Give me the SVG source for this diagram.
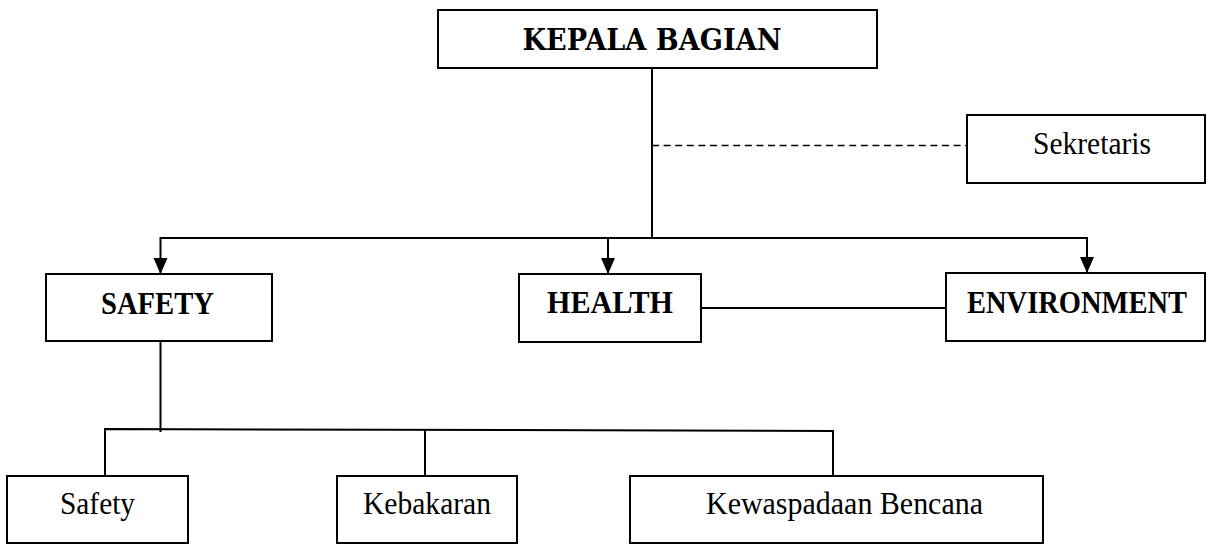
<svg xmlns="http://www.w3.org/2000/svg" width="1208" height="544" viewBox="0 0 1208 544">
<style>
.box{fill:#fff;stroke:#000;stroke-width:2}
.ln{fill:none;stroke:#000;stroke-width:2}
.dash{fill:none;stroke:#000;stroke-width:1.6;stroke-dasharray:7 4.6}
.b{font-family:"Liberation Serif","Times New Roman",serif;font-weight:bold;font-size:32px;fill:#000;text-anchor:middle}
.k{font-family:"DejaVu Serif","Liberation Serif",serif;font-weight:bold;font-size:29px;fill:#000;text-anchor:middle}
.r{font-family:"Liberation Serif","Times New Roman",serif;font-size:31px;fill:#000;text-anchor:middle}
</style>
<defs>
<marker id="arr" markerUnits="userSpaceOnUse" markerWidth="16" markerHeight="15" refX="16" refY="7.5" orient="auto">
<path d="M0,0.5 L16,7.5 L0,14.5 z" fill="#000"/>
</marker>
</defs>
<rect width="1208" height="544" fill="#fff"/>
<g id="connectors">
<line class="ln" x1="652" y1="68" x2="652" y2="238"/>
<line class="dash" x1="652" y1="145.5" x2="967" y2="145.5"/>
<line class="ln" x1="160.5" y1="238" x2="1087" y2="238"/>
<line class="ln" x1="160.5" y1="237" x2="160.5" y2="274" marker-end="url(#arr)"/>
<line class="ln" x1="608" y1="238" x2="608" y2="274" marker-end="url(#arr)"/>
<line class="ln" x1="1087" y1="237" x2="1087" y2="273" marker-end="url(#arr)"/>
<line class="ln" x1="701" y1="308" x2="946" y2="308"/>
<line class="ln" x1="160.5" y1="341" x2="160.5" y2="432"/>
<path class="ln" d="M105,476 V429 L833,431 V476"/>
<line class="ln" x1="425" y1="429" x2="425" y2="476"/>
</g>
<g id="kepala">
<rect class="box" x="438" y="10" width="439" height="58"/>
<text class="k" x="652" y="50" textLength="259" lengthAdjust="spacingAndGlyphs">KEPALA BAGIAN</text>
</g>
<g id="sekretaris">
<rect class="box" x="967" y="115" width="238" height="68"/>
<text class="r" x="1092" y="154" textLength="118" lengthAdjust="spacingAndGlyphs">Sekretaris</text>
</g>
<g id="safety-head">
<rect class="box" x="46" y="274" width="226" height="67"/>
<text class="b" x="157.5" y="314" textLength="113" lengthAdjust="spacingAndGlyphs">SAFETY</text>
</g>
<g id="health">
<rect class="box" x="519" y="274" width="182" height="68"/>
<text class="b" x="610" y="313" textLength="126" lengthAdjust="spacingAndGlyphs">HEALTH</text>
</g>
<g id="environment">
<rect class="box" x="946" y="273" width="259" height="68"/>
<text class="b" x="1077" y="313" font-size="31" textLength="220" lengthAdjust="spacingAndGlyphs">ENVIRONMENT</text>
</g>
<g id="safety">
<rect class="box" x="7" y="476" width="181" height="67"/>
<text class="r" x="97.5" y="514" textLength="75" lengthAdjust="spacingAndGlyphs">Safety</text>
</g>
<g id="kebakaran">
<rect class="box" x="337" y="476" width="180" height="67"/>
<text class="r" x="427" y="514" textLength="128" lengthAdjust="spacingAndGlyphs">Kebakaran</text>
</g>
<g id="kewaspadaan">
<rect class="box" x="630" y="476" width="413" height="67"/>
<text class="r" x="844.5" y="514" textLength="277" lengthAdjust="spacingAndGlyphs">Kewaspadaan Bencana</text>
</g>
</svg>
